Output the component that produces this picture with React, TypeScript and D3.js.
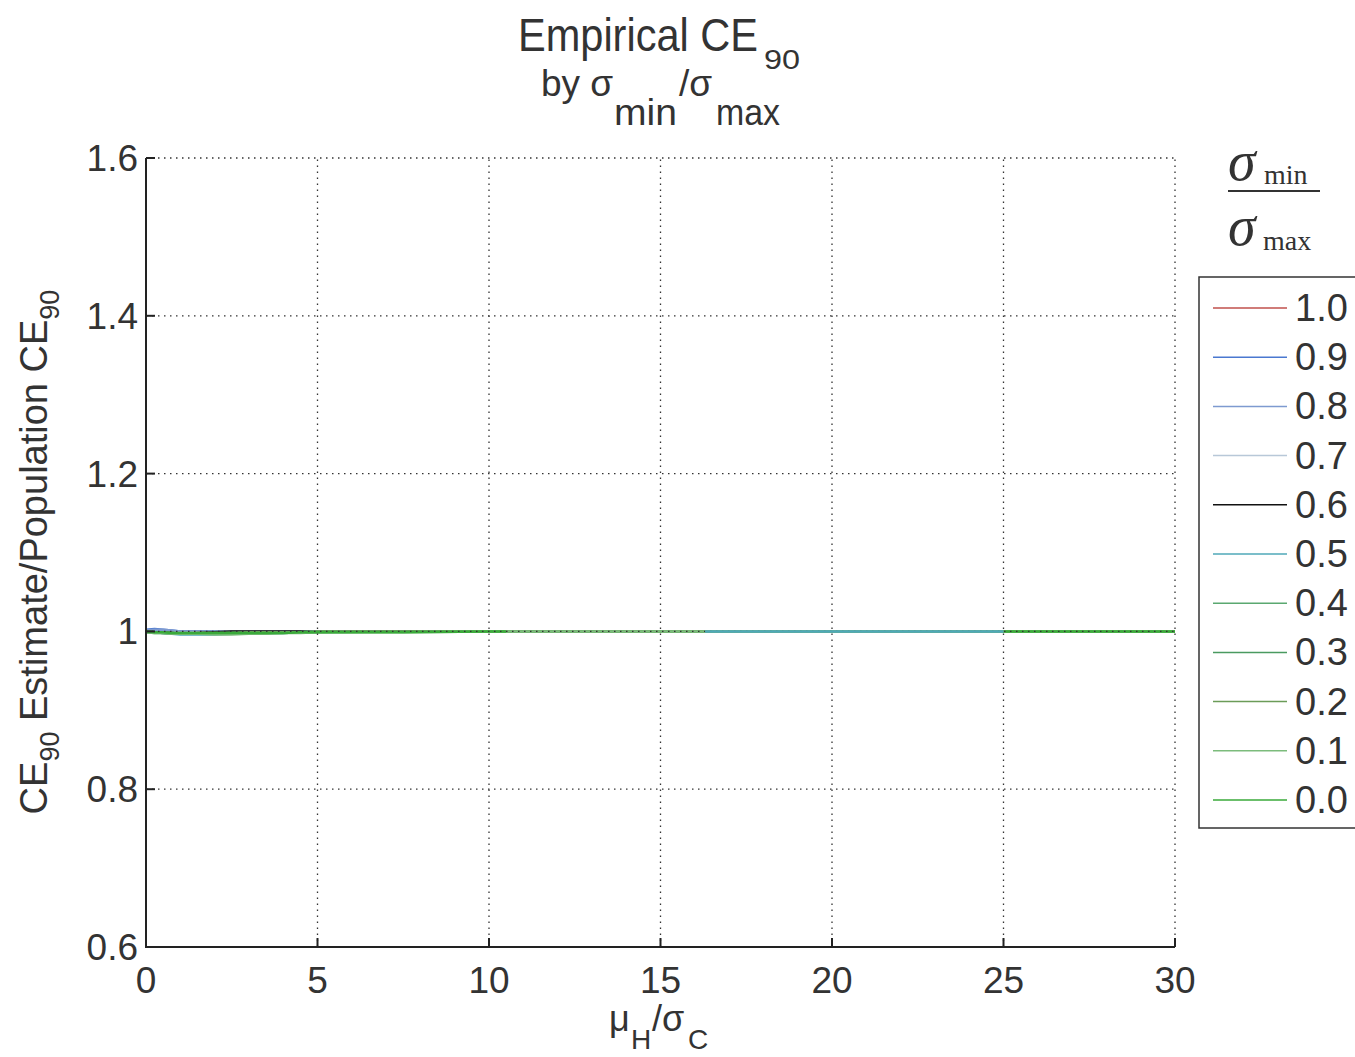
import React from "react";
import * as d3 from "d3";

const W = 1355;
const H = 1057;

const xTicks = [0, 5, 10, 15, 20, 25, 30];
const yTicks = [0.6, 0.8, 1.0, 1.2, 1.4, 1.6];
const yTickLabels = ["0.6", "0.8", "1", "1.2", "1.4", "1.6"];

const ratioLabels = ["1.0", "0.9", "0.8", "0.7", "0.6", "0.5", "0.4", "0.3", "0.2", "0.1", "0.0"];
const ratioColors = ["#c0504d", "#4a78d0", "#7e9ad0", "#b8c8d8", "#111111", "#4fa8b8", "#5aa870", "#4a9a60", "#6b9c58", "#7cbc7c", "#3aaa3a"];

const xVals = [0, 0.25, 0.5, 0.75, 1, 1.25, 1.5, 2, 2.5, 3, 3.5, 4, 4.5, 5, 7.5, 10, 10.5, 12.5, 15, 16.3, 17.5, 20, 22.5, 25, 27.5, 30];

const s10 = [1.001, 1.001, 1.0, 1.0, 1.0, 1.0, 1.0, 1.0, 1.0, 1.0, 1.0, 1.0, 1.0, 1.0, 1.0, 1.0, 1.0, 1.0, 1.0, 1.0, 1.0, 1.0, 1.0, 1.0, 1.0, 1.0];
const s09 = [1.002, 1.003, 1.002, 1.001, 1.0, 1.0, 1.0, 1.0, 1.0, 1.0, 1.0, 1.0, 1.0, 1.0, 1.0, 1.0, 1.0, 1.0, 1.0, 1.0, 1.0, 1.0, 1.0, 1.0, 1.0, 1.0];
const s08 = [1.001, 1.002, 1.002, 1.001, 1.0, 1.0, 1.0, 1.0, 1.0, 1.0, 1.0, 1.0, 1.0, 1.0, 1.0, 1.0, 1.0, 1.0, 1.0, 1.0, 1.0, 1.0, 1.0, 1.0, 1.0, 1.0];
const s07 = [0.999, 0.999, 0.998, 0.998, 0.998, 0.998, 0.999, 0.999, 1.0, 1.0, 1.0, 1.0, 1.0, 1.0, 1.0, 1.0, 1.0, 1.0, 1.0, 1.0, 1.0, 1.0, 1.0, 1.0, 1.0, 1.0];
const s06 = [1.0, 0.999, 0.999, 0.998, 0.997, 0.997, 0.998, 0.999, 1.0, 1.0, 1.0, 1.0, 1.0, 1.0, 1.0, 1.0, 1.0, 1.0, 1.0, 1.0, 1.0, 1.0, 1.0, 1.0, 1.0, 1.0];
const s05 = [1.0, 0.999, 0.998, 0.997, 0.996, 0.996, 0.996, 0.996, 0.997, 0.997, 0.998, 0.998, 0.999, 1.0, 1.0, 1.0, 1.0, 1.0, 1.0, 1.0, 1.0, 1.0, 1.0, 1.0, 1.0, 1.0];
const s04 = [0.999, 0.998, 0.998, 0.997, 0.997, 0.997, 0.997, 0.997, 0.998, 0.998, 0.998, 0.998, 0.999, 1.0, 1.0, 1.0, 1.0, 1.0, 1.0, 1.0, 1.0, 1.0, 1.0, 1.0, 1.0, 1.0];
const s03 = [0.999, 0.999, 0.998, 0.998, 0.997, 0.997, 0.997, 0.998, 0.998, 0.998, 0.998, 0.999, 0.999, 0.999, 1.0, 1.0, 1.0, 1.0, 1.0, 1.0, 1.0, 1.0, 1.0, 1.0, 1.0, 1.0];
const s02 = [1.0, 0.999, 0.999, 0.998, 0.998, 0.998, 0.998, 0.998, 0.998, 0.999, 0.999, 0.999, 0.999, 1.0, 1.0, 1.0, 1.0, 1.0, 1.0, 1.0, 1.0, 1.0, 1.0, 1.0, 1.0, 1.0];
const s01 = [0.999, 0.998, 0.998, 0.997, 0.997, 0.997, 0.997, 0.996, 0.996, 0.997, 0.997, 0.998, 0.998, 0.999, 0.999, 1.0, 1.0, 1.0, 1.0, 1.0, 1.0, 1.0, 1.0, 1.0, 1.0, 1.0];
const s00 = [1.0, 0.999, 0.999, 0.998, 0.998, 0.998, 0.998, 0.998, 0.998, 0.998, 0.998, 0.998, 0.999, 0.999, 0.999, 1.0, 1.0, null, null, null, null, null, null, 1.0, 1.0, 1.0];

const seriesValues: (number | null)[][] = [s10, s09, s08, s07, s06, s05, s04, s03, s02, s01, s00];
const overlayRange = [16.3, 25];
const overlaySeries = 5;

const LEFT = 146, RIGHT = 1175, TOP = 158, BOTTOM = 947;
const FONT = "'Liberation Sans', Arial, Helvetica, sans-serif";
const SERIF = "'Liberation Serif', 'Times New Roman', serif";
const TXT = "#333";

export default function App() {
  const x = d3.scaleLinear().domain([0, 30]).range([LEFT, RIGHT]);
  const y = d3.scaleLinear().domain([0.6, 1.6]).range([BOTTOM, TOP]);

  const line = d3
    .line<{ x: number; v: number | null }>()
    .defined((d) => d.v !== null)
    .x((d) => x(d.x))
    .y((d) => y(d.v as number));

  const series = seriesValues.map((vals) => vals.map((v, i) => ({ x: xVals[i], v })));
  const overlay = series[overlaySeries].filter((d) => d.x >= overlayRange[0] && d.x <= overlayRange[1]);

  const legendX = 1199, legendTop = 277, legendBottom = 828;
  const rowY = d3.scaleLinear().domain([0, ratioLabels.length - 1]).range([308, 800]);

  return (
    <svg width={W} height={H} style={{ position: "absolute", left: 0, top: 0, background: "#fff" }} fontFamily={FONT}>
      <rect x={0} y={0} width={W} height={H} fill="#fff" />
      {/* series under grid */}
      <g fill="none" strokeWidth={2.5}>
        {series.map((s, i) => (
          <path key={i} d={line(s) || ""} stroke={ratioColors[i]} />
        ))}
      </g>
      {/* grid */}
      <g stroke="#333" strokeWidth={1.3} strokeDasharray="1.5 4.5">
        {xTicks.filter((t) => t > 0).map((t) => (
          <line key={"gx" + t} x1={x(t)} x2={x(t)} y1={BOTTOM} y2={TOP} />
        ))}
        {yTicks.filter((t) => t > 0.6).map((t) => (
          <line key={"gy" + t} x1={LEFT} x2={RIGHT} y1={y(t)} y2={y(t)} />
        ))}
      </g>
      <path d={line(overlay) || ""} fill="none" stroke={ratioColors[overlaySeries]} strokeWidth={2.5} />
      {/* axes */}
      <g stroke="#222" strokeWidth={2}>
        <line x1={LEFT} x2={LEFT} y1={TOP} y2={BOTTOM + 1} />
        <line x1={LEFT - 1} x2={RIGHT} y1={BOTTOM} y2={BOTTOM} />
        {xTicks.map((t) => (
          <line key={"tx" + t} x1={x(t)} x2={x(t)} y1={BOTTOM} y2={BOTTOM - 9} />
        ))}
        {yTicks.map((t) => (
          <line key={"ty" + t} x1={LEFT} x2={LEFT + 9} y1={y(t)} y2={y(t)} />
        ))}
      </g>
      {/* tick labels */}
      <g fill={TXT} fontSize={37}>
        {xTicks.map((t) => (
          <text key={"lx" + t} x={x(t)} y={993} textAnchor="middle">{t}</text>
        ))}
        {yTicks.map((t, i) => (
          <text key={"ly" + t} x={138} y={y(t) + 13} textAnchor="end">{yTickLabels[i]}</text>
        ))}
      </g>
      {/* title */}
      <g fill={TXT}>
        <text x={518} y={51} fontSize={46} textLength={240} lengthAdjust="spacingAndGlyphs">Empirical CE</text>
        <text x={764} y={69} fontSize={28} textLength={36} lengthAdjust="spacingAndGlyphs">90</text>
        <text x={541} y={96} fontSize={37}>by σ</text>
        <text x={614} y={125} fontSize={36} textLength={63} lengthAdjust="spacingAndGlyphs">min</text>
        <text x={679} y={96} fontSize={37}>/σ</text>
        <text x={716} y={125} fontSize={36} textLength={64} lengthAdjust="spacingAndGlyphs">max</text>
      </g>
      {/* x label */}
      <g fill={TXT}>
        <text x={609} y={1031} fontSize={36}>μ</text>
        <text x={631} y={1049} fontSize={28}>H</text>
        <text x={652} y={1031} fontSize={36}>/σ</text>
        <text x={688} y={1049} fontSize={28}>C</text>
      </g>
      {/* y label */}
      <text transform="translate(47,552) rotate(-90)" textAnchor="middle" fill={TXT} fontSize={38}>
        CE<tspan fontSize={27} dy={12}>90</tspan>
        <tspan dy={-12}> Estimate/Population CE</tspan>
        <tspan fontSize={27} dy={12}>90</tspan>
      </text>
      {/* legend header */}
      <g fill={TXT} fontFamily={SERIF}>
        <text x={1228} y={180} fontSize={56} fontStyle="italic">σ</text>
        <text x={1264} y={184} fontSize={28}>min</text>
        <line x1={1228} x2={1320} y1={191} y2={191} stroke={TXT} strokeWidth={1.8} />
        <text x={1228} y={245} fontSize={56} fontStyle="italic">σ</text>
        <text x={1263} y={250} fontSize={28}>max</text>
      </g>
      {/* legend */}
      <rect x={legendX} y={legendTop} width={W - legendX + 10} height={legendBottom - legendTop} fill="#fff" stroke="#333" strokeWidth={1.5} />
      {ratioLabels.map((lab, i) => (
        <g key={lab}>
          <line x1={1213} x2={1287} y1={rowY(i)} y2={rowY(i)} stroke={ratioColors[i]} strokeWidth={1.5} />
          <text x={1295} y={rowY(i) + 13} fontSize={38} fill={TXT}>{lab}</text>
        </g>
      ))}
    </svg>
  );
}
